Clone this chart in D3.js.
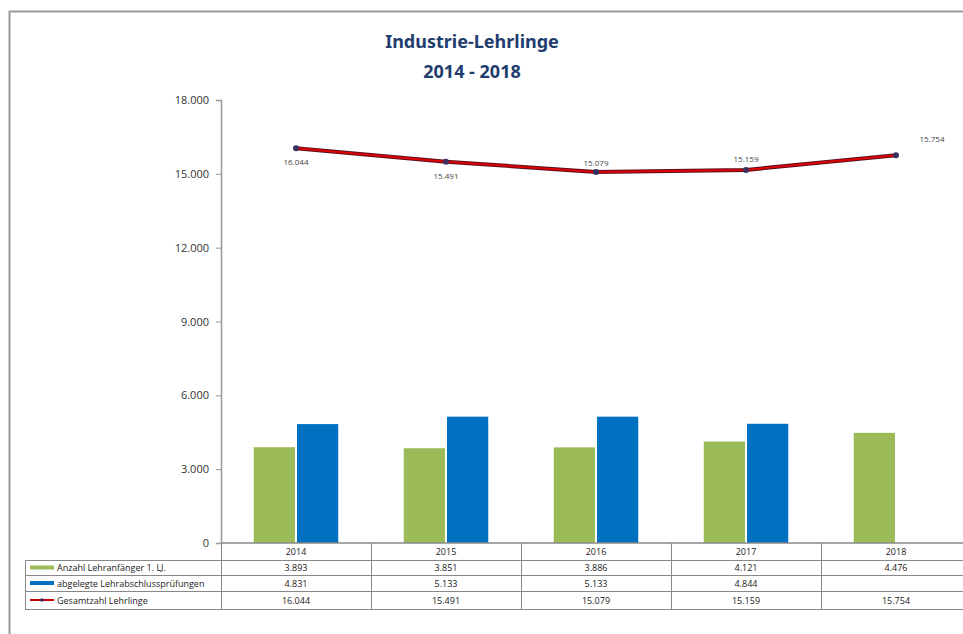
<!DOCTYPE html>
<html><head><meta charset="utf-8">
<script src="https://cdn.jsdelivr.net/npm/d3@7"></script>
<style>body{margin:0;background:#fff}svg{display:block}</style>
</head><body>
<svg id="c" width="963" height="634"></svg>
<script>
const years = ["2014","2015","2016","2017","2018"];
const anfaenger = [3893, 3851, 3886, 4121, 4476];
const pruefungen = [4831, 5133, 5133, 4844, null];
const gesamt = [16044, 15491, 15079, 15159, 15754];
const yTicks = [0, 3000, 6000, 9000, 12000, 15000, 18000];
const seriesNames = ["Anzahl Lehranfänger 1. LJ.", "abgelegte Lehrabschlussprüfungen", "Gesamtzahl Lehrlinge"];
const colors = ["#9bbb59", "#0070c0", "#c00000"];

const fmt = v => v == null ? "" : d3.format(",")(v).replace(/,/g, ".");
const svg = d3.select("#c");
const font = "'Open Sans', 'Noto Sans', sans-serif";

// frame
svg.append("path").attr("d","M9.5,634 V11.5 H963").attr("fill","none").attr("stroke","#999").attr("stroke-width",2);

// title
svg.append("text").attr("x",472).attr("y",48).attr("text-anchor","middle")
  .attr("font-family","'Noto Sans', sans-serif").attr("font-weight","bold").attr("font-size",18).attr("fill","#1f3d6e").text("Industrie-Lehrlinge");
svg.append("text").attr("x",472).attr("y",78).attr("text-anchor","middle")
  .attr("font-family","'Noto Sans', sans-serif").attr("font-weight","bold").attr("font-size",18).attr("fill","#1f3d6e").text("2014 - 2018");

const x = d3.scaleBand().domain(years).range([221, 971]).padding(0);
const y = d3.scaleLinear().domain([0, 18000]).range([543, 100]);
const bw = x.bandwidth() * 0.275;

// y axis
const yAxis = d3.axisLeft(y).tickValues(yTicks).tickFormat(fmt).tickSize(5).tickPadding(7);
const ga = svg.append("g").attr("transform","translate(221,0)").call(yAxis);
ga.select(".domain").attr("stroke","#999").attr("stroke-width",1.5);
ga.selectAll(".tick line").attr("stroke","#999");
ga.selectAll(".tick text").attr("font-family",font).attr("font-size",11).attr("fill","#333");

// bars
const cx = d => x(d) + x.bandwidth()/2;
svg.append("g").selectAll("rect").data(years.map((d,i)=>({d,v:anfaenger[i]}))).join("rect")
  .attr("x", o => cx(o.d) - bw - 1).attr("width", bw)
  .attr("y", o => y(o.v)).attr("height", o => y(0) - y(o.v)).attr("fill", colors[0]);
svg.append("g").selectAll("rect").data(years.map((d,i)=>({d,v:pruefungen[i]})).filter(o=>o.v!=null)).join("rect")
  .attr("x", o => cx(o.d) + 1).attr("width", bw)
  .attr("y", o => y(o.v)).attr("height", o => y(0) - y(o.v)).attr("fill", colors[1]);

// line
const pts = years.map((d,i)=>({d,v:gesamt[i]}));
const line = d3.line().x(o=>cx(o.d)).y(o=>y(o.v));
svg.append("path").datum(pts).attr("d",line).attr("fill","none").attr("stroke","#5a1020").attr("stroke-width",4);
svg.append("path").datum(pts).attr("d",line).attr("fill","none").attr("stroke","#e00000").attr("stroke-width",2);
svg.append("g").selectAll("circle").data(pts).join("circle")
  .attr("cx",o=>cx(o.d)).attr("cy",o=>y(o.v)).attr("r",3).attr("fill","#3a3060");
const lblOff = [[0,14],[0,14],[0,-9],[0,-11],[36,-16]];
svg.append("g").selectAll("text").data(pts).join("text")
  .attr("x",(o,i)=>cx(o.d)+lblOff[i][0]).attr("y",(o,i)=>y(o.v)+lblOff[i][1]+3)
  .attr("text-anchor","middle").attr("font-family",font).attr("font-size",8).attr("fill","#444").text(o=>fmt(o.v));

// data table
const rowY = [543, 560, 575, 591, 609];
const tg = svg.append("g");
const gridC = "#888";
// horizontal lines
tg.append("line").attr("x1",221).attr("x2",971).attr("y1",543).attr("y2",543).attr("stroke",gridC).attr("stroke-width",1.5);
[560,575,591,609].forEach(yy=>tg.append("line").attr("x1",25).attr("x2",971).attr("y1",yy+0.5).attr("y2",yy+0.5).attr("stroke",gridC));
tg.append("line").attr("x1",25.5).attr("x2",25.5).attr("y1",560).attr("y2",609).attr("stroke",gridC);
years.forEach(d=>tg.append("line").attr("x1",x(d)+0.5).attr("x2",x(d)+0.5).attr("y1",543).attr("y2",609).attr("stroke",gridC));
// headers
tg.selectAll("text.h").data(years).join("text").attr("class","h")
  .attr("x",d=>cx(d)).attr("y",555).attr("text-anchor","middle").attr("font-family",font).attr("font-size",9).attr("fill","#222").text(d=>d);
const rows = [anfaenger, pruefungen, gesamt];
rows.forEach((arr,r)=>{
  const ty = (rowY[r+1]+rowY[r+2])/2 + 3.5;
  tg.append("g").selectAll("text").data(years).join("text")
    .attr("x",d=>cx(d)).attr("y",ty).attr("text-anchor","middle").attr("font-family",font).attr("font-size",9).attr("fill","#222")
    .text((d,i)=>fmt(arr[i]));
  // legend key
  const ly = (rowY[r+1]+rowY[r+2])/2;
  tg.append("line").attr("x1",30).attr("x2",54).attr("y1",ly).attr("y2",ly).attr("stroke",colors[r]).attr("stroke-width", r==2?2:4);
  if (r==2) tg.append("circle").attr("cx",42).attr("cy",ly).attr("r",1.8).attr("fill","#3a3060");
  tg.append("text").attr("x",57).attr("y",ty).attr("font-family",font).attr("font-size",9).attr("fill","#222").text(seriesNames[r]);
});
</script>
</body></html>
